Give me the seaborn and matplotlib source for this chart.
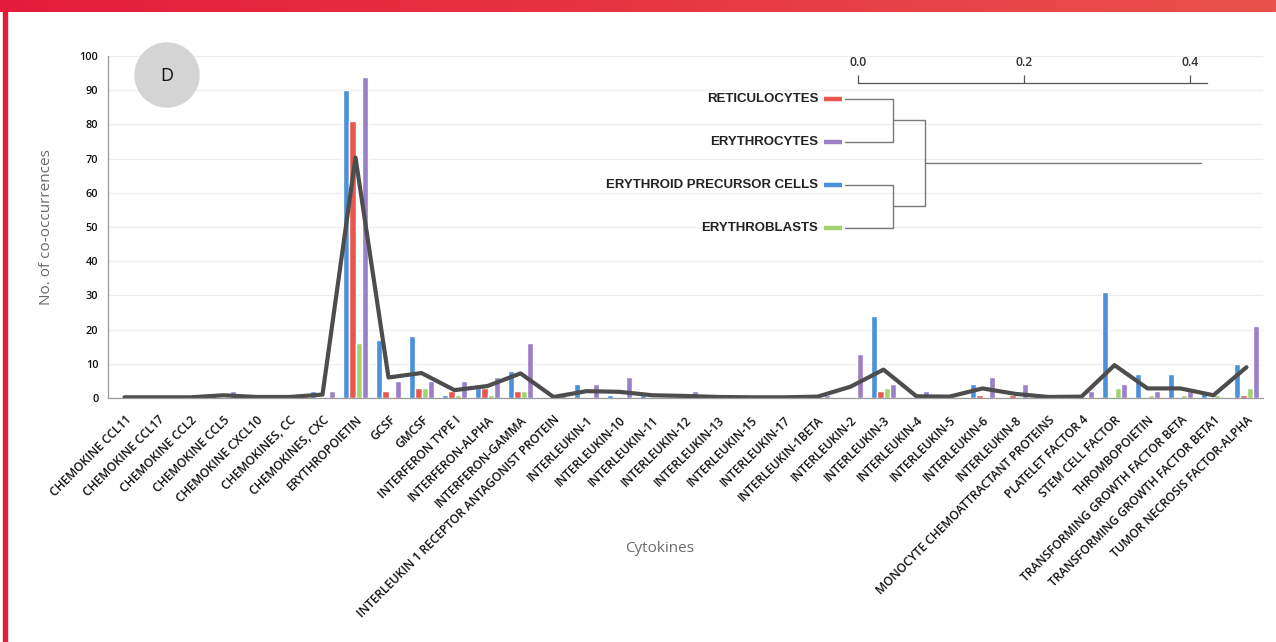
import numpy as np
import pandas as pd
import matplotlib
matplotlib.use('Agg')
import matplotlib.pyplot as plt
import seaborn as sns
from matplotlib.colors import LinearSegmentedColormap
from matplotlib.patches import Ellipse, Rectangle

# --- data ---
CYTOKINES = [
    "CHEMOKINE CCL11", "CHEMOKINE CCL17", "CHEMOKINE CCL2", "CHEMOKINE CCL5",
    "CHEMOKINE CXCL10", "CHEMOKINES, CC", "CHEMOKINES, CXC", "ERYTHROPOIETIN",
    "GCSF", "GMCSF", "INTERFERON TYPE I", "INTERFERON-ALPHA", "INTERFERON-GAMMA",
    "INTERLEUKIN 1 RECEPTOR ANTAGONIST PROTEIN", "INTERLEUKIN-1", "INTERLEUKIN-10",
    "INTERLEUKIN-11", "INTERLEUKIN-12", "INTERLEUKIN-13", "INTERLEUKIN-15",
    "INTERLEUKIN-17", "INTERLEUKIN-1BETA", "INTERLEUKIN-2", "INTERLEUKIN-3",
    "INTERLEUKIN-4", "INTERLEUKIN-5", "INTERLEUKIN-6", "INTERLEUKIN-8",
    "MONOCYTE CHEMOATTRACTANT PROTEINS", "PLATELET FACTOR 4", "STEM CELL FACTOR",
    "THROMBOPOIETIN", "TRANSFORMING GROWTH FACTOR BETA",
    "TRANSFORMING GROWTH FACTOR BETA1", "TUMOR NECROSIS FACTOR-ALPHA",
]
PRECURSOR = [0, 0, 0, 1, 0, 0.5, 2, 90, 17, 18, 1, 3, 8, 0, 4, 1, 1, 0, 0, 0,
             0, 0, 0, 24, 0, 0, 4, 0, 0, 0, 31, 7, 7, 1.5, 10]
RETICULOCYTES = [0, 0, 0, 0, 0, 0, 0, 81, 2, 3, 2, 3, 2, 0, 0, 0, 0, 0, 0, 0,
                 0, 0, 0, 2, 0, 0, 1, 1, 0, 0, 0, 0, 0, 0, 1]
ERYTHROBLASTS = [0, 0, 0, 0, 0, 0, 0, 16, 0, 3, 1, 1, 2, 0, 0, 0, 0, 0, 0, 0,
                 0, 0, 0, 3, 0, 0, 0, 0, 0, 0, 3, 1, 1, 1, 3]
ERYTHROCYTES = [0, 0, 0, 2, 0, 0, 2, 94, 5, 5, 5, 6, 16, 1, 4, 6, 0, 2, 0, 0,
                0, 1, 13, 4, 2, 0, 6, 4, 0, 2, 4, 2, 2, 0, 21]
AVERAGE = [0.2, 0.2, 0.2, 0.8, 0.3, 0.3, 1.0, 70.3, 6, 7.3, 2.3, 3.5, 7.2, 0.3,
           2, 1.8, 0.8, 0.6, 0.3, 0.2, 0.2, 0.4, 3.3, 8.3, 0.5, 0.4, 2.8, 1.2,
           0.3, 0.4, 9.6, 2.8, 2.8, 0.8, 9]

SERIES_ORDER = ["ERYTHROID PRECURSOR CELLS", "RETICULOCYTES", "ERYTHROBLASTS", "ERYTHROCYTES"]
COLORS = {
    "ERYTHROID PRECURSOR CELLS": "#4a90da",
    "RETICULOCYTES": "#e95850",
    "ERYTHROBLASTS": "#a2d36c",
    "ERYTHROCYTES": "#9a80c8",
}

DENDRO_LEAVES = ["RETICULOCYTES", "ERYTHROCYTES", "ERYTHROID PRECURSOR CELLS", "ERYTHROBLASTS"]
DENDRO_MERGES = [0.042, 0.042, 0.081]
DENDRO_ROOT = 0.413
DENDRO_TICKS = [0.0, 0.2, 0.4]

W, H = 1276, 642


def main():
    sns.set_style("white")
    plt.rcParams['font.family'] = ['Open Sans', 'DejaVu Sans']

    df = pd.DataFrame({
        "cytokine": CYTOKINES * 4,
        "cell": np.repeat(SERIES_ORDER, len(CYTOKINES)),
        "value": PRECURSOR + RETICULOCYTES + ERYTHROBLASTS + ERYTHROCYTES,
    })

    fig = plt.figure(figsize=(W / 100, H / 100), dpi=100)
    ax = fig.add_axes([108 / W, 1 - 398 / H, (1263 - 108) / W, (398 - 56) / H])

    sns.barplot(data=df, x="cytokine", y="value", hue="cell", order=CYTOKINES,
                hue_order=SERIES_ORDER, palette=COLORS, width=0.75, saturation=1,
                errorbar=None, legend=False, ax=ax)
    sns.lineplot(x=np.arange(len(CYTOKINES)), y=AVERAGE, color="#4d4d4d",
                 lw=3.0, sort=False, ax=ax)

    ax.set_xlim(-0.5, len(CYTOKINES) - 0.5)
    ax.set_ylim(0, 100)
    ax.set_yticks(np.arange(0, 101, 10))
    ax.yaxis.grid(True, color="#eeeeee", lw=0.9)
    ax.set_axisbelow(True)
    for s in ["top", "right"]:
        ax.spines[s].set_visible(False)
    for s in ["left", "bottom"]:
        ax.spines[s].set_color("#9a9a9a")
        ax.spines[s].set_linewidth(0.9)

    ax.set_xticks(np.arange(len(CYTOKINES)))
    ax.set_xticklabels(CYTOKINES, rotation=45, ha="right", rotation_mode="anchor",
                       fontsize=8.6, fontweight="semibold", color="#111111")
    ax.set_xticks(np.arange(-0.5, len(CYTOKINES), 1), minor=True)
    ax.tick_params(axis="x", which="major", length=0, pad=11)
    ax.tick_params(axis="x", which="minor", length=4, color="#9a9a9a", width=0.8)
    ax.tick_params(axis="y", length=3, color="#9a9a9a", width=0.8, labelsize=7.8,
                   labelcolor="#111111", pad=4)
    for t in ax.get_yticklabels():
        t.set_fontweight("semibold")
    ax.set_xlabel("")
    ax.set_ylabel("")

    fig.text(47 / W, 1 - 227 / H, "No. of co-occurrences", rotation=90,
             ha="center", va="center", fontsize=11, color="#6a6a6a")
    fig.text(660 / W, 1 - 548 / H, "Cytokines", ha="center", va="center",
             fontsize=11, color="#6a6a6a")

    # panel label
    fig.add_artist(Ellipse((167 / W, 1 - 75 / H), 64 / W, 64 / H,
                           transform=fig.transFigure, color="#d4d4d4", zorder=5))
    fig.text(167 / W, 1 - 76 / H, "D", ha="center", va="center", fontsize=13,
             color="#111111", zorder=6)

    # dendrogram inset
    dx = fig.add_axes([858 / W, 1 - 240 / H, (1207 - 858) / W, (240 - 83) / H])
    dx.patch.set_alpha(0)
    dx.set_xlim(0, (1207 - 858) / 830)
    dx.set_ylim(4.28, 0.628)
    for s in ["bottom", "left", "right"]:
        dx.spines[s].set_visible(False)
    dx.spines["top"].set_color("#555555")
    dx.spines["top"].set_linewidth(0.9)
    dx.xaxis.tick_top()
    dx.set_xticks(DENDRO_TICKS)
    dx.set_xticklabels([f"{t:.1f}" for t in DENDRO_TICKS])
    dx.tick_params(axis="x", length=6, color="#555555", width=0.9, labelsize=8.8,
                   labelcolor="#333333", pad=4)
    for t in dx.get_xticklabels():
        t.set_fontweight("semibold")
    dx.set_yticks([])

    lc = "#7a7a7a"
    leaf_x = -0.016
    ys = [1, 2, 3, 4]
    for name, y in zip(DENDRO_LEAVES, ys):
        dx.plot([-0.041, -0.019], [y, y], color=COLORS[name], lw=3.2,
                solid_capstyle="butt", clip_on=False)
        dx.text(-0.048, y, name, ha="right", va="center", fontsize=9.5,
                fontweight="bold", family=["Liberation Sans", "DejaVu Sans"],
                color="#222222", clip_on=False)
    h1, h2, h3 = DENDRO_MERGES
    for (ya, yb), h in [((1, 2), h1), ((3, 4), h2)]:
        dx.plot([leaf_x, h, h, leaf_x], [ya, ya, yb, yb], color=lc, lw=1, clip_on=False)
    dx.plot([h1, h3, h3, h2], [1.5, 1.5, 3.5, 3.5], color=lc, lw=1, clip_on=False)
    dx.plot([h3, DENDRO_ROOT], [2.5, 2.5], color=lc, lw=1, clip_on=False)

    # red frame
    bar = fig.add_axes([0, 1 - 12 / H, 1, 12 / H])
    cmap = LinearSegmentedColormap.from_list("frame", ["#e41c3b", "#e9514b"])
    bar.imshow(np.linspace(0, 1, 256)[None, :], aspect="auto", cmap=cmap)
    bar.set_axis_off()
    fig.add_artist(Rectangle((3 / W, 0), 4 / W, 1, transform=fig.transFigure,
                             color="#e41c3b", zorder=10))

    fig.savefig("out.png", dpi=100)
    plt.close(fig)


if __name__ == "__main__":
    main()
